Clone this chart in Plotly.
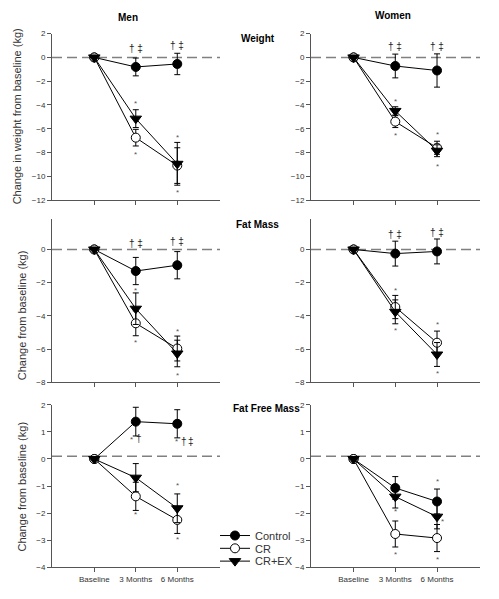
import plotly.graph_objects as go
from plotly.subplots import make_subplots

# visits (x positions) and their labels
visits = [0, 1, 2]
visit_labels = ["Baseline", "3 Months", "6 Months"]
groups = ["Control", "CR", "CR+EX"]

# Men - weight (mean change, SEM)
men_wt_ctrl = [0, -0.8, -0.55]
men_wt_ctrl_err = [0, 0.75, 0.9]
men_wt_cr = [0, -6.75, -9.1]
men_wt_cr_err = [0, 0.7, 1.5]
men_wt_crex = [0, -5.15, -8.95]
men_wt_crex_err = [0, 0.75, 1.8]

# Women - weight
wom_wt_ctrl = [0, -0.72, -1.1]
wom_wt_ctrl_err = [0, 1.0, 1.4]
wom_wt_cr = [0, -5.4, -7.6]
wom_wt_cr_err = [0, 0.5, 0.55]
wom_wt_crex = [0, -4.5, -7.85]
wom_wt_crex_err = [0, 0.35, 0.5]

# Men - fat mass
men_fm_ctrl = [0, -1.3, -0.95]
men_fm_ctrl_err = [0, 0.82, 0.82]
men_fm_cr = [0, -4.45, -5.97]
men_fm_cr_err = [0, 0.75, 0.75]
men_fm_crex = [0, -3.57, -6.27]
men_fm_crex_err = [0, 0.95, 0.8]

# Women - fat mass
wom_fm_ctrl = [0, -0.25, -0.12]
wom_fm_ctrl_err = [0, 0.75, 0.75]
wom_fm_cr = [0, -3.47, -5.62]
wom_fm_cr_err = [0, 0.7, 0.7]
wom_fm_crex = [0, -3.76, -6.33]
wom_fm_crex_err = [0, 0.72, 0.72]

# Men - fat free mass
men_ffm_ctrl = [0, 1.38, 1.3]
men_ffm_ctrl_err = [0, 0.53, 0.52]
men_ffm_cr = [0, -1.38, -2.25]
men_ffm_cr_err = [0, 0.52, 0.5]
men_ffm_crex = [0, -0.69, -1.82]
men_ffm_crex_err = [0, 0.52, 0.53]

# Women - fat free mass
wom_ffm_ctrl = [0, -1.07, -1.57]
wom_ffm_ctrl_err = [0, 0.42, 0.46]
wom_ffm_cr = [0, -2.77, -2.92]
wom_ffm_cr_err = [0, 0.48, 0.5]
wom_ffm_crex = [0, -1.39, -2.13]
wom_ffm_crex_err = [0, 0.42, 0.45]

# significance marks: (visit, value, text)
men_wt_marks = [(1, 0.75, "† ‡"), (2, 1.0, "† ‡"), (1, -3.9, "*"), (1, -8.15, "*"),
                (2, -6.7, "*"), (2, -11.4, "*")]
wom_wt_marks = [(1, 0.9, "† ‡"), (2, 0.9, "† ‡"), (1, -3.7, "*"), (1, -6.6, "*"),
                (2, -6.5, "*"), (2, -9.2, "*")]
men_fm_marks = [(1, 0.35, "† ‡"), (2, 0.45, "† ‡"), (1, -2.45, "*"), (1, -5.6, "*"),
                (2, -4.95, "*"), (2, -7.6, "*")]
wom_fm_marks = [(1, 0.93, "† ‡"), (2, 1.0, "† ‡"), (1, -2.45, "*"), (1, -4.9, "*"),
                (2, -4.55, "*"), (2, -7.5, "*")]
men_ffm_marks = [(0.9, 0.72, "*"), (1.08, 0.74, "†"), (1.98, 0.64, "*"), (2.16, 0.64, "†"),
                 (2.34, 0.64, "‡"), (1, -2.04, "*"), (2, -0.99, "*"), (2, -2.98, "*")]
wom_ffm_marks = [(2, -0.82, "*"), (1, -1.95, "*"), (2.13, -2.3, "*"), (1, -3.54, "*"),
                 (2, -3.7, "*")]

# baseline reference level per panel
ref_levels = [0, 0, 0, 0, 0.1, 0.1]

panels = [
    (men_wt_ctrl, men_wt_ctrl_err, men_wt_cr, men_wt_cr_err, men_wt_crex, men_wt_crex_err, men_wt_marks),
    (wom_wt_ctrl, wom_wt_ctrl_err, wom_wt_cr, wom_wt_cr_err, wom_wt_crex, wom_wt_crex_err, wom_wt_marks),
    (men_fm_ctrl, men_fm_ctrl_err, men_fm_cr, men_fm_cr_err, men_fm_crex, men_fm_crex_err, men_fm_marks),
    (wom_fm_ctrl, wom_fm_ctrl_err, wom_fm_cr, wom_fm_cr_err, wom_fm_crex, wom_fm_crex_err, wom_fm_marks),
    (men_ffm_ctrl, men_ffm_ctrl_err, men_ffm_cr, men_ffm_cr_err, men_ffm_crex, men_ffm_crex_err, men_ffm_marks),
    (wom_ffm_ctrl, wom_ffm_ctrl_err, wom_ffm_cr, wom_ffm_cr_err, wom_ffm_crex, wom_ffm_crex_err, wom_ffm_marks),
]

FONT = "Liberation Sans, Arial, sans-serif"
# page body has an 8px margin all round: shrink the figure so the page fits the window
PAD = 8
W, H = 499 - 2 * PAD, 599 - 2 * PAD


def px_x(p):
    return (p - PAD) / W


def px_y(p):
    return 1 - (p - PAD) / H


styles = [
    dict(symbol="circle", color="black", line=dict(color="black", width=1), size=9),
    dict(symbol="circle", color="white", line=dict(color="black", width=1), size=9),
    dict(symbol="triangle-down", color="black", line=dict(color="black", width=1), size=10),
]
legend_ids = ["legend", "legend2", "legend3"]

fig = make_subplots(rows=3, cols=2)

annots = []
shapes = []
for i, p in enumerate(panels):
    row, col = i // 2 + 1, i % 2 + 1
    series = [(p[0], p[1]), (p[2], p[3]), (p[4], p[5])]
    for k, (vals, errs) in enumerate(series):
        fig.add_trace(go.Scatter(
            x=visits, y=vals, mode="lines+markers", name=groups[k],
            showlegend=(i == 4), legend=legend_ids[k],
            line=dict(color="black", width=1),
            marker=styles[k],
            error_y=dict(type="data", array=errs, visible=True, color="black",
                         thickness=1, width=3),
        ), row=row, col=col)
    ax = "" if i == 0 else str(i + 1)
    for (mx, my, txt) in p[6]:
        big = txt != "*"
        annots.append(dict(x=mx, y=my, xref="x" + ax, yref="y" + ax, text=txt,
                           showarrow=False, xanchor="center", yanchor="middle",
                           font=dict(family=FONT, size=10 if big else 8,
                                     color="#222" if big else "#555")))
    shapes.append(dict(type="line", xref="x" + ax + " domain", yref="y" + ax,
                       x0=0, x1=1, y0=ref_levels[i], y1=ref_levels[i],
                       line=dict(color="#808080", width=1.5, dash="10px,5px"), layer="below"))

left = [px_x(52), px_x(220)]
right = [px_x(311), px_x(480)]
rows_y = [[px_y(199), px_y(30)], [px_y(384), px_y(218)], [px_y(572), px_y(407)]]
yranges = [[-12, 2], [-8, 1.85], [-4, 2]]
ytickvals = [list(range(-12, 3, 2)), list(range(-8, 1, 2)), list(range(-4, 3))]

layout = {}
for i in range(6):
    r = i // 2
    ax = "" if i == 0 else str(i + 1)
    layout["xaxis" + ax] = dict(
        domain=left if i % 2 == 0 else right, range=[-1.02, 3.03],
        tickvals=visits, ticktext=visit_labels if r == 2 else ["", "", ""],
        showgrid=False, zeroline=False, showline=True, linecolor="#555", linewidth=1,
        ticks="outside", ticklen=4, tickcolor="#555",
        tickfont=dict(family=FONT, size=8, color="#333"))
    layout["yaxis" + ax] = dict(
        domain=rows_y[r], range=yranges[r], tickvals=ytickvals[r],
        showgrid=False, zeroline=False, showline=True, linecolor="#555", linewidth=1,
        ticks="outside", ticklen=4, tickcolor="#555",
        tickfont=dict(family=FONT, size=8, color="#333"))

# one legend box per group so the rows sit as tightly as in the original
for k, lid in enumerate(legend_ids):
    layout[lid] = dict(x=px_x(215), y=px_y(525 + 13 * k), xanchor="left", yanchor="top",
                       font=dict(family=FONT, size=11, color="#333"),
                       bgcolor="rgba(0,0,0,0)", itemwidth=30)

heads = [("Men", 128, 14), ("Women", 393, 12), ("Weight", 258, 35),
         ("Fat Mass", 257, 224), ("Fat Free Mass", 266, 411)]
for txt, px, py in heads:
    annots.append(dict(x=px_x(px), y=px_y(py), xref="paper", yref="paper", text="<b>" + txt + "</b>",
                       showarrow=False, xanchor="center", yanchor="middle",
                       font=dict(family=FONT, size=10, color="black")))

ytitles = [("Change in weight from baseline (kg)", 17, 114),
           ("Change from baseline (kg)", 22, 316),
           ("Change from baseline (kg)", 22, 490)]
for txt, px, py in ytitles:
    annots.append(dict(x=px_x(px), y=px_y(py), xref="paper", yref="paper", text=txt,
                       textangle=-90, showarrow=False, xanchor="center", yanchor="middle",
                       font=dict(family=FONT, size=11, color="#333")))

fig.update_layout(
    width=W, height=H, margin=dict(l=0, r=0, t=0, b=0),
    paper_bgcolor="white", plot_bgcolor="white",
    annotations=annots, shapes=shapes,
    **layout,
)

fig.write_html("out.html")
